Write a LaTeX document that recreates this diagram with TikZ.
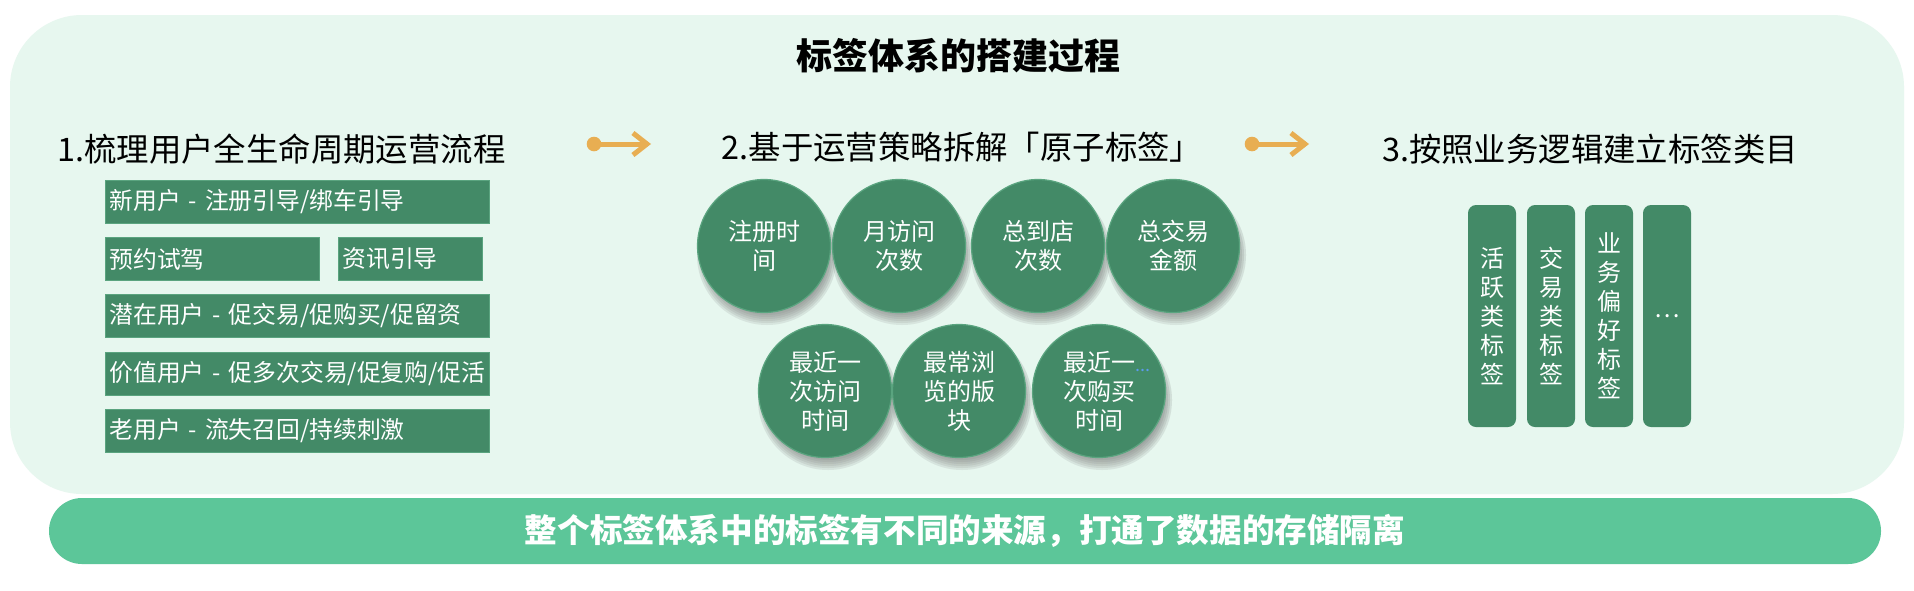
\documentclass[tikz,border=0pt]{standalone}
\usepackage{fontspec}
\setmainfont{Noto Sans CJK SC}
\usetikzlibrary{arrows.meta}
\definecolor{panel}{HTML}{E7F7EF}
\definecolor{dgreen}{HTML}{438A67}
\definecolor{dedge}{HTML}{5AA47F}
\definecolor{bannercol}{HTML}{5CC699}
\definecolor{gold}{HTML}{E8AE52}
\definecolor{shade}{HTML}{7FA595}
\definecolor{dotblue}{HTML}{5B9BEF}
\tikzset{
  titletext/.style={font=\bfseries\fontsize{18}{20}\selectfont, text=black, inner sep=0pt},
  headtext/.style={font=\fontsize{16.2}{18}\selectfont, text=black, inner sep=0pt},
  lbox/.style={draw=dedge, line width=0.5pt, fill=dgreen, text=white, anchor=north west,
    font=\fontsize{11.9}{14}\selectfont, minimum height=21.5pt, inner xsep=2pt, inner ysep=0pt, align=left},
  atom/.style={circle, draw=dedge, line width=0.6pt, fill=dgreen, text=white, minimum size=66.5pt,
    inner sep=0pt, align=center, font=\fontsize{12}{14.5}\selectfont},
  vbar/.style={rounded corners=4pt, fill=dgreen, text=white, minimum width=24pt, minimum height=111pt,
    inner sep=0pt, align=center, font=\fontsize{12}{14.5}\selectfont},
  golddot/.style={circle, fill=gold, minimum size=7.3pt, inner sep=0pt},
  goldarrow/.style={draw=gold, line width=2.5pt, -{Straight Barb[length=7pt,width=11pt]}},
  bannerbox/.style={fill=bannercol, rounded corners=16.5pt, minimum width=916pt, minimum height=33pt,
    inner sep=0pt, text=white, font=\bfseries\fontsize{16.3}{18}\selectfont},
}
\begin{document}
\begin{tikzpicture}[x=0.5pt,y=-0.5pt]
\useasboundingbox (0,0) rectangle (1914,590);
\fill[white] (0,0) rectangle (1914,590);
% background panel
\fill[panel, rounded corners=36pt] (10,15) rectangle (1904,494);
% title
\node[titletext] (title) at (958,56) {标签体系的搭建过程};
% headings
\node[headtext, anchor=west] (h1) at (57,149) {1.梳理用户全生命周期运营流程};
\node[headtext] (h2) at (962,147) {2.基于运营策略拆解「原子标签」};
\node[headtext] (h3) at (1590,149) {3.按照业务逻辑建立标签类目};
% arrows
\node[golddot] (d1) at (594,144) {};
\coordinate (t1) at (651,144);
\draw[goldarrow] (d1.center) -- (t1);
\node[golddot] (d2) at (1252,144) {};
\coordinate (t2) at (1309,144);
\draw[goldarrow] (d2.center) -- (t2);
% left boxes
\node[lbox, text width=188pt] (b1) at (105,180) {\mbox{新用户 - 注册引导/绑车引导}};
\node[lbox, text width=103pt] (b2) at (105,237) {\mbox{预约试驾}};
\node[lbox, text width=68pt] (b3) at (338,237) {\mbox{资讯引导}};
\node[lbox, text width=188pt] (b4) at (105,294) {\mbox{潜在用户 - 促交易/促购买/促留资}};
\node[lbox, text width=188pt] (b5) at (105,352) {\mbox{价值用户 - 促多次交易/促复购/促活}};
\node[lbox, text width=188pt] (b6) at (105,409) {\mbox{老用户 - 流失召回/持续刺激}};
% shadows of the atom tags
\foreach \cx/\cy in {764/246, 899/246, 1038/246, 1173/246, 825/391, 959/391, 1099/391}{
  \foreach \k in {0,...,5}{
    \fill[shade, opacity=0.08] (\cx+3,\cy+9) circle[radius=60+2*\k];
  }
}
% atom tags
\node[atom] (c1) at (764,246) {注册时\\间};
\node[atom] (c2) at (899,246) {月访问\\次数};
\node[atom] (c3) at (1038,246) {总到店\\次数};
\node[atom] (c4) at (1173,246) {总交易\\金额};
\node[atom] (c5) at (825,391) {最近一\\次访问\\时间};
\node[atom] (c6) at (959,391) {最常浏\\览的版\\块};
\node[atom] (c7) at (1099,391) {最近一\rlap{\textcolor{dotblue}{\fontsize{9}{9}\selectfont...}}\\次购买\\时间};
% category bars
\node[vbar] (v1) at (1492,316) {活\\跃\\类\\标\\签};
\node[vbar] (v2) at (1551,316) {交\\易\\类\\标\\签};
\node[vbar] (v3) at (1609,316) {业\\务\\偏\\好\\标\\签};
\node[vbar] (v4) at (1667,316) {…};
% bottom banner
\node[bannerbox] (ban) at (965,531) {整个标签体系中的标签有不同的来源，打通了数据的存储隔离};
\end{tikzpicture}
\end{document}
